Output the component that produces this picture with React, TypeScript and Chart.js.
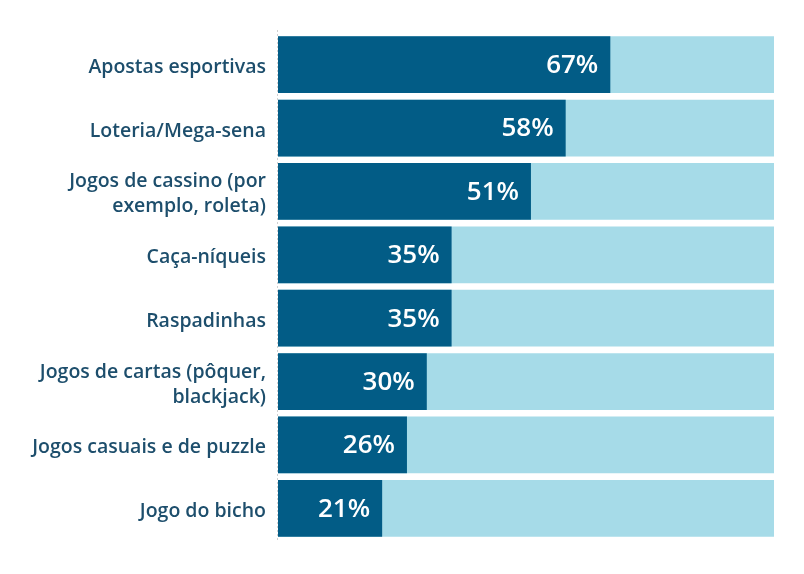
import React, { useEffect, useRef } from "react";
import { Chart, registerables } from "chart.js";

Chart.register(...registerables);

const categories: (string | string[])[] = [
  "Apostas esportivas",
  "Loteria/Mega-sena",
  ["Jogos de cassino (por", "exemplo, roleta)"],
  "Caça-níqueis",
  "Raspadinhas",
  ["Jogos de cartas (pôquer,", "blackjack)"],
  "Jogos casuais e de puzzle",
  "Jogo do bicho",
];
const values = [67, 58, 51, 35, 35, 30, 26, 21];
const totals = [100, 100, 100, 100, 100, 100, 100, 100];

const DARK = "#025c86";
const LIGHT = "#a6dbe8";
const LABEL = "#1d4e6c";

const overlayPlugin = {
  id: "overlay",
  beforeDatasetsDraw(chart: any) {
    const { ctx, chartArea } = chart;
    const x = chart.scales.x.getPixelForValue(0);
    ctx.save();
    ctx.strokeStyle = "#d0d0d0";
    ctx.lineWidth = 1;
    ctx.setLineDash([2, 2]);
    ctx.beginPath();
    ctx.moveTo(Math.round(x) - 0.5, chartArea.top - 3);
    ctx.lineTo(Math.round(x) - 0.5, chartArea.bottom + 2);
    ctx.stroke();
    ctx.restore();

    // category labels
    const yScale = chart.scales.y;
    ctx.save();
    ctx.fillStyle = LABEL;
    ctx.font = "600 19.5px 'Open Sans'";
    ctx.textAlign = "right";
    ctx.textBaseline = "alphabetic";
    categories.forEach((lab, i) => {
      const lines = Array.isArray(lab) ? lab : [lab];
      const cy = yScale.getPixelForValue(i);
      lines.forEach((ln, j) => {
        const y = cy + 8.5 + (j - (lines.length - 1) / 2) * 25;
        ctx.fillText(ln, chartArea.left - 12, y);
      });
    });
    ctx.restore();
  },
  afterDatasetsDraw(chart: any) {
    const { ctx } = chart;
    const meta = chart.getDatasetMeta(1);
    ctx.save();
    ctx.fillStyle = "#ffffff";
    ctx.font = "600 26px 'Open Sans'";
    ctx.textAlign = "right";
    ctx.textBaseline = "middle";
    meta.data.forEach((bar: any, i: number) => {
      ctx.fillText(values[i] + "%", bar.x - 12, bar.y + 1);
    });
    ctx.restore();
  },
};

export default function App() {
  const ref = useRef<HTMLCanvasElement>(null);
  useEffect(() => {
    const chart = new Chart(ref.current!, {
      type: "bar",
      data: {
        labels: categories,
        datasets: [
          {
            data: totals,
            backgroundColor: LIGHT,
            barPercentage: 0.894,
            categoryPercentage: 1,
            order: 2,
          },
          {
            data: values,
            backgroundColor: DARK,
            barPercentage: 0.894,
            categoryPercentage: 1,
            order: 1,
          },
        ],
      },
      options: {
        indexAxis: "y",
        animation: false,
        responsive: false,
        layout: { padding: { top: 33, bottom: 34, right: 30, left: 0 } },
        plugins: { legend: { display: false }, tooltip: { enabled: false } },
        scales: {
          x: { min: 0, max: 100, display: false, stacked: false },
          y: {
            stacked: true,
            grid: { display: false, drawTicks: false },
            border: { display: false },
            ticks: { display: false },
            afterFit(scale: any) {
              scale.width = 278;
            },
          },
        },
      },
      plugins: [overlayPlugin],
    });
    return () => chart.destroy();
  }, []);
  return (
    <div style={{ position: "fixed", left: 0, top: 0, width: 804, height: 574, background: "#fff" }}>
      <canvas ref={ref} width={804} height={574} style={{ width: 804, height: 574 }} />
    </div>
  );
}
